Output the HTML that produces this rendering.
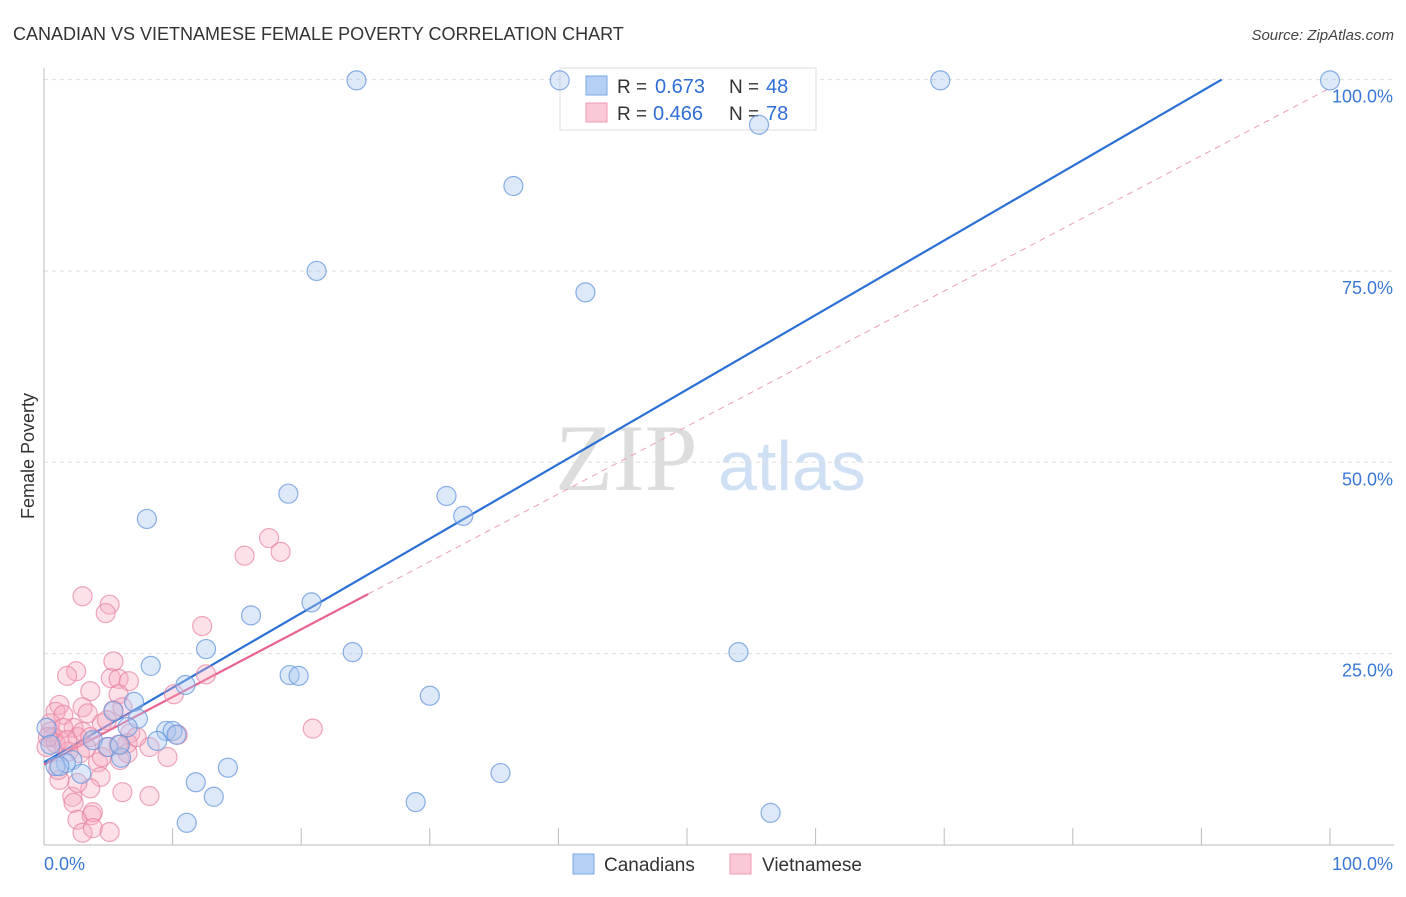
<!DOCTYPE html>
<html><head><meta charset="utf-8"><style>
body{margin:0;background:#fff;font-family:"Liberation Sans",sans-serif}
</style></head><body>
<svg width="1406" height="892" xmlns="http://www.w3.org/2000/svg" font-family="Liberation Sans, sans-serif">
<text x="13" y="40" font-size="18" fill="#333">CANADIAN VS VIETNAMESE FEMALE POVERTY CORRELATION CHART</text>
<text x="1394" y="40" font-size="15" fill="#444" text-anchor="end" font-style="italic">Source: ZipAtlas.com</text>
<text x="555" y="490" font-size="95" fill="#ddd" font-family="Liberation Serif, serif">ZIP</text>
<text x="718" y="490" font-size="70" fill="#cfe0f5">atlas</text>
<g id="grid"></g>
<g id="axes"></g>
<g>
<rect x="560" y="68" width="256" height="62" fill="#fff" stroke="#ddd"/>
<rect x="586" y="76" width="21" height="19" fill="#b5d0f5" stroke="#7aa8e8"/>
<rect x="586" y="103" width="21" height="19" fill="#fbc8d6" stroke="#f09ab3"/>
<text x="617" y="93" font-size="19" fill="#333">R =</text>
<text x="655" y="93" font-size="20" fill="#2f6fd6">0.673</text>
<text x="729" y="93" font-size="19" fill="#333">N =</text>
<text x="766" y="93" font-size="20" fill="#2f6fd6">48</text>
<text x="617" y="120" font-size="19" fill="#333">R =</text>
<text x="653" y="120" font-size="20" fill="#2f6fd6">0.466</text>
<text x="729" y="120" font-size="19" fill="#333">N =</text>
<text x="766" y="120" font-size="20" fill="#2f6fd6">78</text>
</g>
<g id="lines"></g>
<g id="pts"></g>
<text transform="translate(34,456) rotate(-90)" font-size="18" fill="#333" text-anchor="middle">Female Poverty</text>
<g>
<rect x="573" y="854" width="21" height="20" fill="#b5d0f5" stroke="#7aa8e8"/>
<text x="604" y="871" font-size="19" fill="#333">Canadians</text>
<rect x="730" y="854" width="21" height="20" fill="#fbc8d6" stroke="#f09ab3"/>
<text x="762" y="871" font-size="19" fill="#333">Vietnamese</text>
</g>
</svg>
<script>
const yTicks=[25,50,75,100];
const yTickLabels=["25.0%","50.0%","75.0%","100.0%"];
const xTicks=[10,20,30,40,50,60,70,80,90,100];
const xEndLabels=["0.0%","100.0%"];
const canX=[24.3,40.1,69.7,100,55.6,36.5,21.2,42.1,19.0,31.3,32.6,8.0,16.1,20.8,12.6,24.0,54.0,8.3,19.1,19.8,11.0,30.0,7.0,5.4,7.3,6.5,9.5,10.0,10.3,8.8,3.8,5.0,6.0,2.2,1.7,0.9,1.2,2.9,11.8,14.3,13.2,28.9,35.5,56.5,11.1,0.2,0.5,5.9];
const canY=[99.9,99.9,99.9,99.9,94.1,86.1,75.0,72.2,45.9,45.6,43.0,42.6,30.0,31.7,25.6,25.2,25.2,23.4,22.2,22.1,20.9,19.5,18.7,17.5,16.5,15.4,14.9,14.9,14.4,13.6,13.7,12.8,11.4,11.1,10.7,10.3,10.3,9.3,8.2,10.1,6.3,5.6,9.4,4.2,2.9,15.3,13.1,13.1];
const vieX=[3.0,5.1,4.8,12.3,5.4,2.5,1.8,5.2,5.8,6.6,12.6,3.6,5.8,10.1,1.2,3.0,3.4,0.9,1.5,5.4,4.5,2.3,0.5,0.7,1.2,0.2,2.6,3.0,3.6,6.7,10.4,6.5,8.2,9.6,5.9,4.2,6.5,1.2,4.4,3.6,2.2,2.3,6.1,8.2,2.6,3.7,3.8,3.0,3.8,5.1,20.9,15.6,17.5,18.4,0.5,1.5,0.9,1.9,2.8,4.9,4.5,2.6,1.1,0.3,1.8,3.3,5.8,7.2,4.9,6.1];
const vieY=[32.5,31.4,30.3,28.6,24.0,22.7,22.1,21.8,21.7,21.4,22.3,20.1,19.7,19.7,18.3,18.0,17.2,17.4,17.0,17.6,15.9,15.3,15.9,14.1,13.7,12.8,14.1,14.8,14.1,14.6,14.4,13.3,12.8,11.5,11.1,10.8,12.0,8.5,8.9,7.4,6.3,5.5,6.9,6.4,3.3,3.9,4.3,1.6,2.2,1.7,15.2,37.8,40.1,38.3,14.8,15.3,13.3,12.2,12.0,12.8,11.5,8.1,9.8,14.1,13.7,12.7,13.1,14.1,16.3,18.0];
const canLine=[10.8,0.974];
const vieLine=[10.5,0.884,25.2];
const NS="http://www.w3.org/2000/svg";
const X=v=>44+v*12.86, Y=v=>845-v*7.654;
function mk(tag,attrs,parent){const e=document.createElementNS(NS,tag);for(const k in attrs)e.setAttribute(k,attrs[k]);document.getElementById(parent).appendChild(e);return e;}
yTicks.forEach((t,i)=>{
 const g=mk('line',{x1:44,x2:1394,y1:Y(t),y2:Y(t),stroke:'#ddd','stroke-dasharray':'4,4'},'grid');
 
 
 const l=mk('text',{x:1393,y:Y(t)+23,'font-size':18,fill:'#3a78d6','text-anchor':'end'},'grid');
 l.textContent=yTickLabels[i];
 
 
});
let a=mk('line',{x1:44,x2:44,y1:68,y2:845,stroke:'#bbb'},'axes');


a=mk('line',{x1:44,x2:1394,y1:845,y2:845,stroke:'#bbb'},'axes');


xTicks.forEach(t=>{const e=mk('line',{x1:X(t),x2:X(t),y1:828,y2:845,stroke:'#bbb'},'axes');
 
 });
let tl=mk('text',{x:44,y:870,'font-size':18,fill:'#3a78d6'},'axes');tl.textContent=xEndLabels[0];


tl=mk('text',{x:1393,y:870,'font-size':18,fill:'#3a78d6','text-anchor':'end'},'axes');tl.textContent=xEndLabels[1];


const cx2=(100-canLine[0])/canLine[1];
let ln=mk('line',{x1:X(0),y1:Y(canLine[0]),x2:X(cx2),y2:Y(100),stroke:'#2a6fd6','stroke-width':2.2},'lines');


ln=mk('line',{x1:X(vieLine[2]),y1:Y(vieLine[0]+vieLine[1]*vieLine[2]),x2:X(100),y2:Y(vieLine[0]+vieLine[1]*100),stroke:'#eaa0b8','stroke-width':1,'stroke-dasharray':'6,5'},'lines');


ln=mk('line',{x1:X(0),y1:Y(vieLine[0]),x2:X(vieLine[2]),y2:Y(vieLine[0]+vieLine[1]*vieLine[2]),stroke:'#e8638f','stroke-width':2.2},'lines');


vieX.forEach((v,i)=>{const c=mk('circle',{cx:X(v),cy:Y(vieY[i]),r:9.5,fill:'rgba(246,170,192,0.35)',stroke:'rgba(232,130,160,0.7)','stroke-width':1.2},'pts');
 
 });
canX.forEach((v,i)=>{const c=mk('circle',{cx:X(v),cy:Y(canY[i]),r:9.5,fill:'rgba(170,200,240,0.4)',stroke:'rgba(100,150,220,0.75)','stroke-width':1.2},'pts');
 
 });
</script>
</body></html>
